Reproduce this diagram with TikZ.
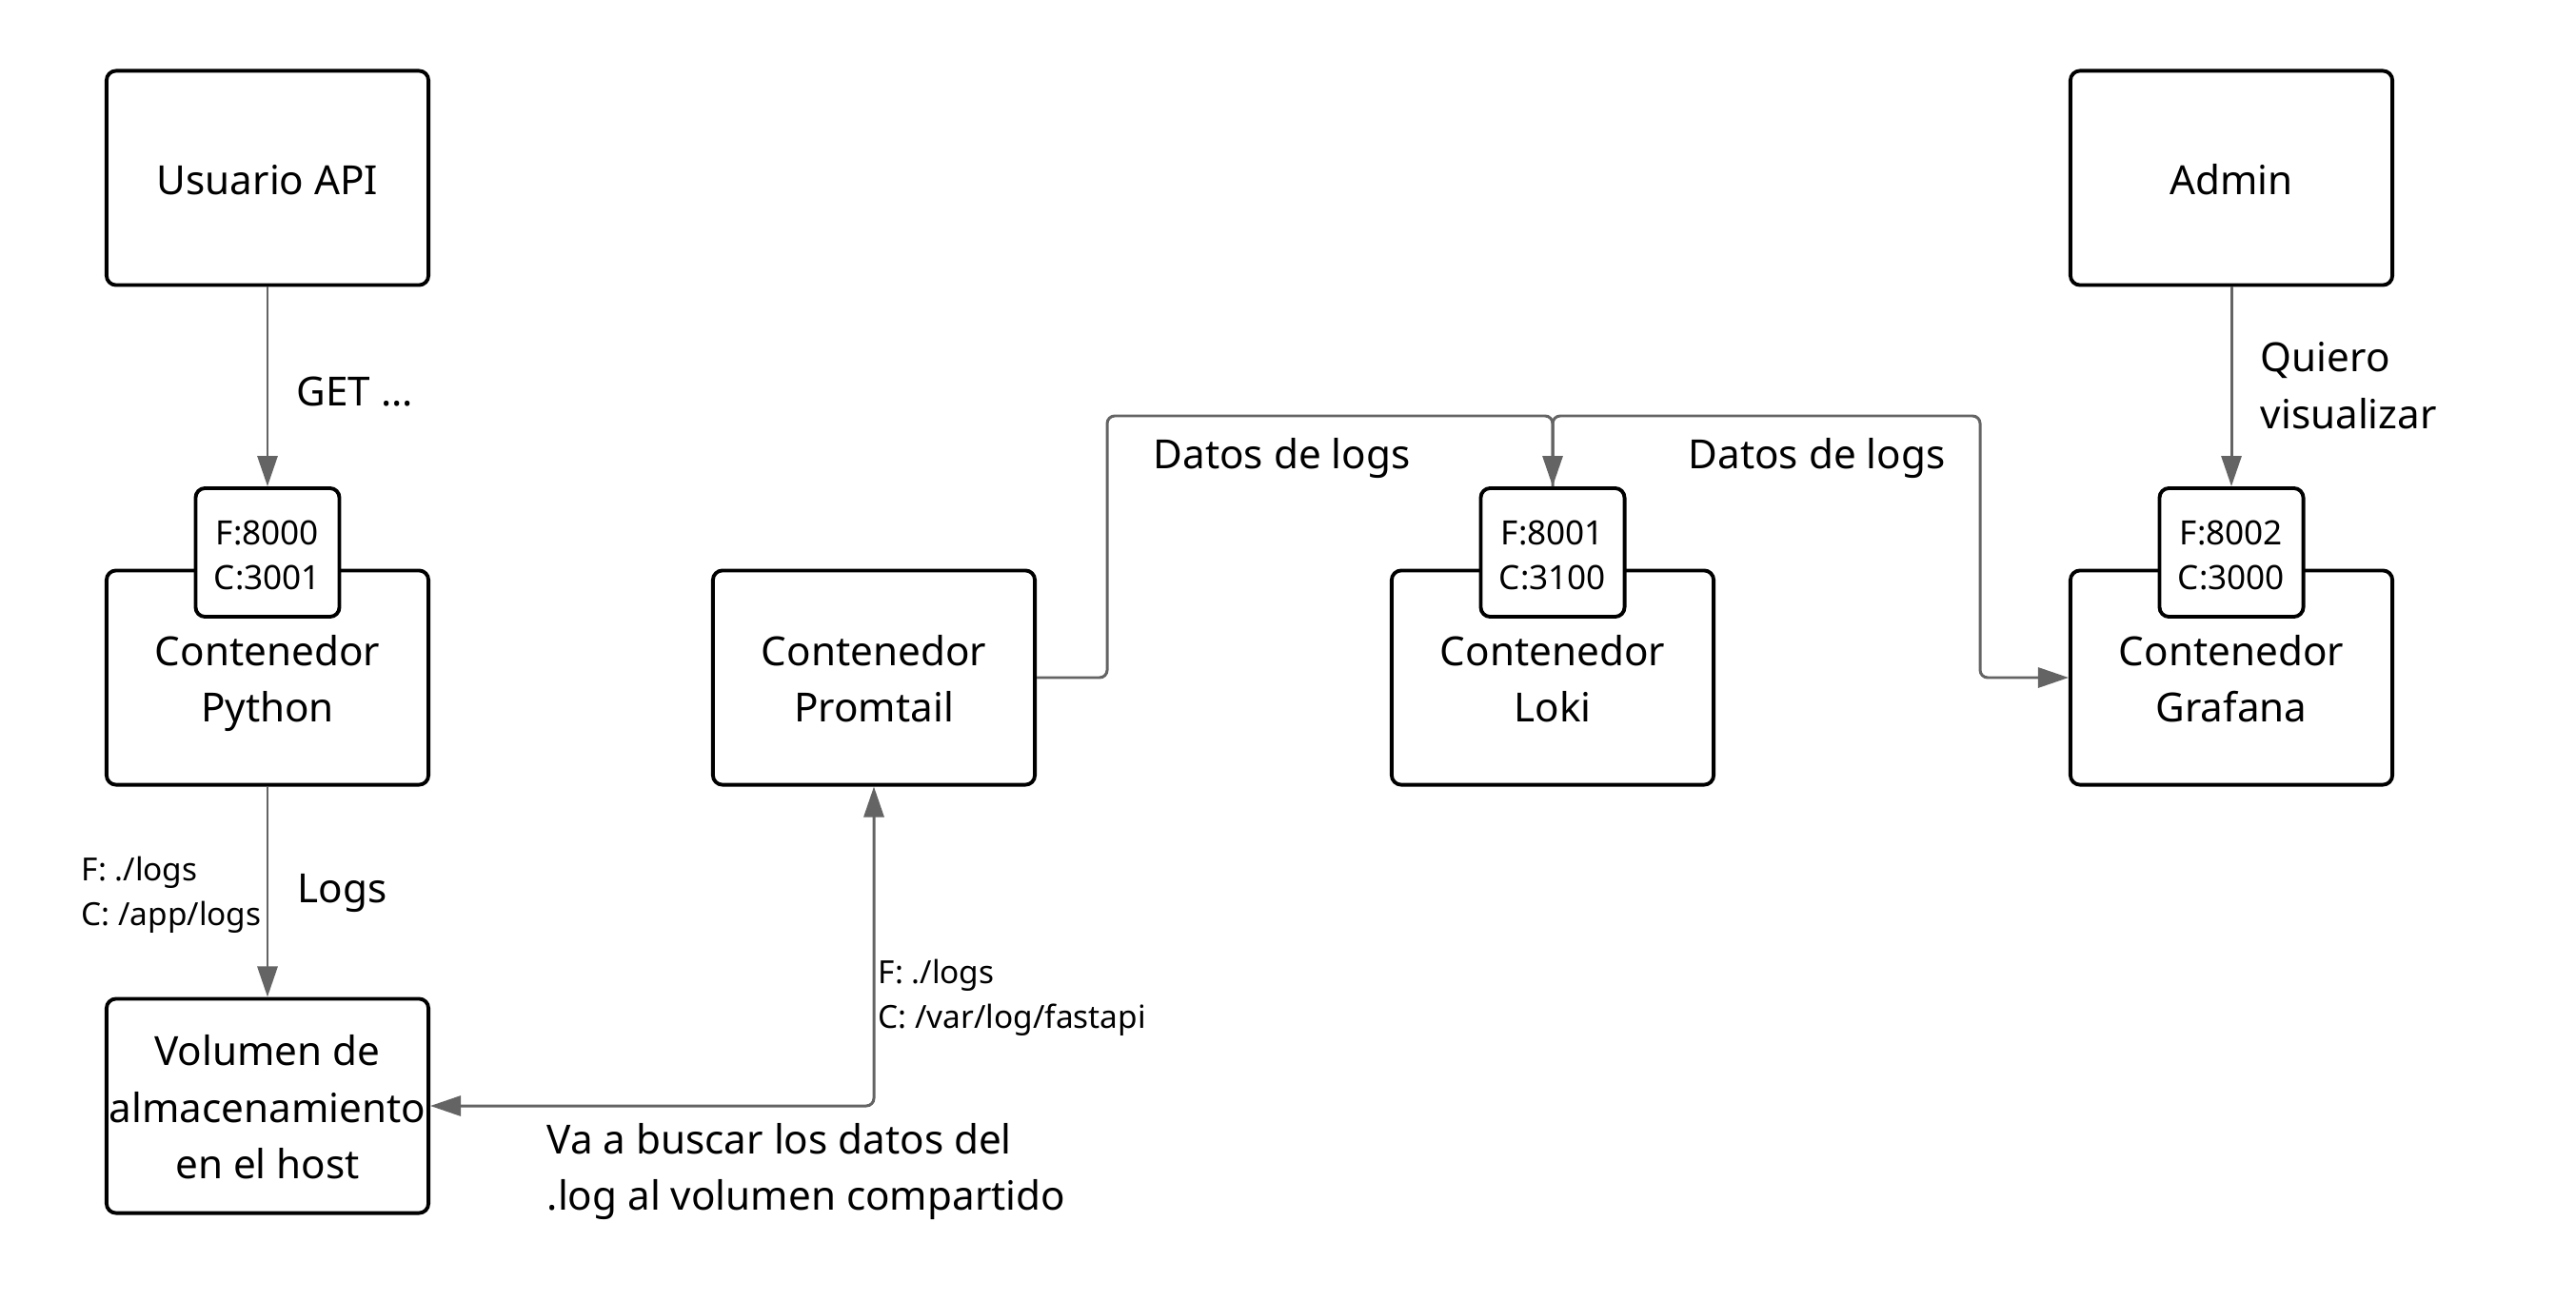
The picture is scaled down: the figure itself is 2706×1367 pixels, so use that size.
\documentclass[tikz,border=0pt]{standalone}
\usepackage{fontspec}
\setmainfont{Noto Sans}
\usetikzlibrary{arrows.meta}
\definecolor{linegray}{HTML}{646464}
\newcommand\dgmain{\fontsize{12}{16.9}\selectfont}
\newcommand\dgsmall{\fontsize{9.5}{13.3}\selectfont}
\newcommand\dgport{\fontsize{10}{13.6}\selectfont}
% uniform line struts so every line sits alike
\newcommand\ms{\vrule width 0pt height 12.7pt depth 3pt\relax}
\newcommand\ps{\vrule width 0pt height 10.8pt depth 2pt\relax}
\begin{document}
\begin{tikzpicture}[x=0.01cm,y=-0.01cm,
  box/.style={draw=black,line width=1.1pt,rounded corners=0.1cm,fill=white,minimum width=3.38cm,minimum height=2.25cm,inner sep=0pt,align=center,font=\dgmain},
  port/.style={draw=black,line width=1.1pt,rounded corners=0.1cm,fill=white,minimum width=1.51cm,minimum height=1.35cm,inner sep=0pt,align=center,font=\dgport},
  tip/.tip={Triangle[length=0.32cm,width=0.21cm]},
  conn/.style={draw=linegray,line width=0.85pt,rounded corners=0.08cm,-tip},
  lbl/.style={inner sep=0pt,anchor=west,align=left,font=\dgmain},
  slbl/.style={inner sep=0pt,anchor=west,align=left,font=\dgsmall}]
\useasboundingbox[fill=white] (0,0) rectangle (2706,1367);
% nodes
\node[box] (user) at (281,187) {\ms Usuario API};
\node[box] (admin) at (2344,187) {\ms Admin};
\node[box] (python) at (281,712) {\ms Contenedor\\\ms Python};
\node[port] (pyport) at (281,580.5) {\ps F:8000\\\ps C:3001};
\node[box] (promtail) at (918,712) {\ms Contenedor\\\ms Promtail};
\node[box] (loki) at (1631,712) {\ms Contenedor\\\ms Loki};
\node[port] (lokiport) at (1631,580.5) {\ps F:8001\\\ps C:3100};
\node[box] (grafana) at (2344,712) {\ms Contenedor\\\ms Grafana};
\node[port] (grafport) at (2344,580.5) {\ps F:8002\\\ps C:3000};
\node[box] (vol) at (281,1162) {\ms Volumen de\\\ms almacenamiento\\\ms en el host};
\coordinate (j) at (1631,437);
% connectors
\draw[conn] (user) -- (pyport);
\draw[conn] (python) -- (vol);
\draw[conn,tip-tip] (promtail.south) |- (vol.east);
\draw[conn] (promtail.east) -- ++(74,0) |- (j) -- (lokiport.north);
\draw[conn] (lokiport.north) -- (j) -- (2080,437) |- (grafana.west);
\draw[conn] (admin) -- (grafport);
% labels
\node[lbl] (get) at (311,412) {GET ...};
\node[lbl] (logs) at (312,938) {Logs};
\node[slbl] (pyvol) at (85,940) {F: ./logs\\C: /app/logs};
\node[slbl] (promvol) at (922,1048) {F: ./logs\\C: /var/log/fastapi};
\node[lbl] (busca) at (574,1231) {Va a buscar los datos del\\.log al volumen compartido};
\node[lbl] (dl1) at (1211,482) {Datos de logs};
\node[lbl] (dl2) at (1773,482) {Datos de logs};
\node[lbl] (quiero) at (2374,405) {Quiero\\visualizar};
\end{tikzpicture}
\end{document}
